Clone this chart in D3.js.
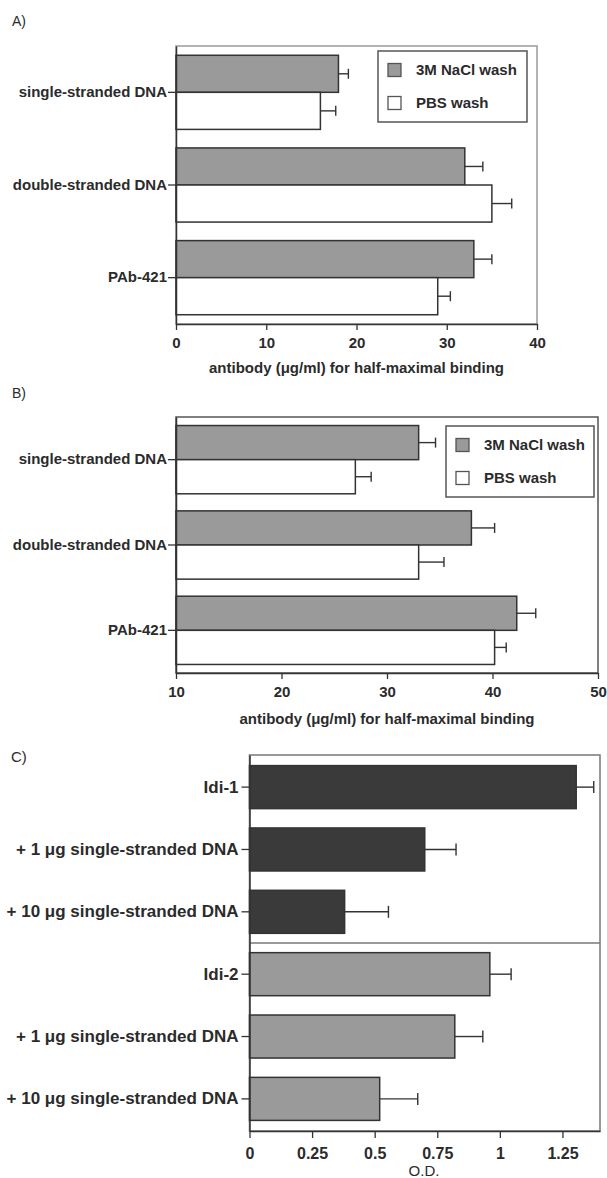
<!DOCTYPE html>
<html>
<head>
<meta charset="utf-8">
<script src="https://cdn.jsdelivr.net/npm/d3@7/dist/d3.min.js"></script>
<style>
    body{margin:0;background:#fff;}
    svg text{font-family:"Liberation Sans", Arial, Helvetica, sans-serif;fill:#2b2b2b;}
</style>
</head>
<body>
<script>
// panels A and B: two washes per antigen
const abCategories = ["single-stranded DNA", "double-stranded DNA", "PAb-421"];
const abSeries = ["3M NaCl wash", "PBS wash"];

const aNaCl = [18, 32, 33];
const aNaClErr = [1.1, 2.0, 2.0];
const aPBS = [16, 35, 29];
const aPBSErr = [1.7, 2.2, 1.4];
const aTicks = [0, 10, 20, 30, 40];

const bNaCl = [33, 38, 42.3];
const bNaClErr = [1.6, 2.2, 1.8];
const bPBS = [27, 33, 40.2];
const bPBSErr = [1.5, 2.4, 1.1];
const bTicks = [10, 20, 30, 40, 50];

// panel C: competition with single-stranded DNA
const cCategories = ["Idi-1", "+ 1 \u03bcg single-stranded DNA", "+ 10 \u03bcg single-stranded DNA",
                     "Idi-2", "+ 1 \u03bcg single-stranded DNA", "+ 10 \u03bcg single-stranded DNA"];
const cGroup = [0, 0, 0, 1, 1, 1];
const cOD = [1.305, 0.70, 0.38, 0.96, 0.82, 0.52];
const cErr = [0.07, 0.125, 0.175, 0.085, 0.112, 0.152];
const cTicks = [0, 0.25, 0.5, 0.75, 1, 1.25];

const W = 607, H = 1178;
const gray = "#9a9a9a", dark = "#3a3a3a", ink = "#333";

var svg = d3.select("body").append("svg")
            .attr("width", W)
            .attr("height", H);

svg.append("rect").attr("width", W).attr("height", H).attr("fill", "#fff");

function styleAxis(g, size, weight){
    g.select(".domain").attr("stroke", ink).attr("stroke-width", 1.5);
    g.selectAll(".tick line").attr("stroke", ink).attr("stroke-width", 1.3);
    g.selectAll(".tick text")
     .attr("fill", "#2b2b2b")
     .style("font-family", '"Liberation Sans", Arial, sans-serif')
     .style("font-size", size + "px")
     .style("font-weight", weight);
}

function errorBar(g, x0, x1, y, cap){
    g.append("line").attr("x1", x0).attr("x2", x1).attr("y1", y).attr("y2", y)
     .attr("stroke", ink).attr("stroke-width", 1.4);
    g.append("line").attr("x1", x1).attr("x2", x1).attr("y1", y - cap).attr("y2", y + cap)
     .attr("stroke", ink).attr("stroke-width", 1.4);
}

function drawGrouped(p){
    let x = d3.scaleLinear().domain(p.domain).range([p.left, p.right]);
    let y0 = d3.scaleBand().domain(abCategories).range([p.top, p.bottom])
               .paddingInner(0.2).paddingOuter(0.1);
    let y1 = d3.scaleBand().domain(abSeries).range([0, y0.bandwidth()]);
    let fills = [gray, "#fff"];

    let g = svg.append("g");

    g.append("text").attr("x", 12).attr("y", p.labelY)
     .style("font-size", "14px").text(p.name);

    // frame
    g.append("rect").attr("x", p.left).attr("y", p.top)
     .attr("width", p.right - p.left).attr("height", p.bottom - p.top)
     .attr("fill", "none").attr("stroke", p.frame).attr("stroke-width", 1.5);

    let rows = [];
    abCategories.forEach(function(c, i){
        rows.push({cat:c, s:0, v:p.values[0][i], e:p.errors[0][i]});
        rows.push({cat:c, s:1, v:p.values[1][i], e:p.errors[1][i]});
    });

    let base = x(p.domain[0]);
    rows.forEach(function(r){
        let yy = y0(r.cat) + y1(abSeries[r.s]);
        g.append("rect").attr("x", base).attr("y", yy)
         .attr("width", x(r.v) - base).attr("height", y1.bandwidth())
         .attr("fill", fills[r.s]).attr("stroke", ink).attr("stroke-width", 1.5);
        errorBar(g, x(r.v), x(r.v + r.e), yy + y1.bandwidth() / 2, 5);
    });

    let ax = g.append("g").attr("transform", "translate(0," + p.bottom + ")")
              .call(d3.axisBottom(x).tickValues(p.ticks).tickSize(6).tickPadding(7)
                      .tickFormat(d => String(d)).tickSizeOuter(0));
    styleAxis(ax, 15, "bold");

    let ay = g.append("g").attr("transform", "translate(" + p.left + ",0)")
              .call(d3.axisLeft(y0).tickSize(8).tickPadding(1).tickSizeOuter(0));
    styleAxis(ay, 15, "bold");

    g.append("text").attr("x", (p.left + p.right) / 2).attr("y", p.titleY)
     .attr("text-anchor", "middle")
     .style("font-size", "15px").style("font-weight", "bold")
     .text("antibody (\u03bcg/ml) for half-maximal binding");

    // legend
    let lg = g.append("g").attr("transform", "translate(" + p.legend[0] + "," + p.legend[1] + ")");
    lg.append("rect").attr("width", p.legend[2]).attr("height", 71)
      .attr("fill", "#fff").attr("stroke", "#555").attr("stroke-width", 1.5);
    abSeries.forEach(function(s, i){
        lg.append("rect").attr("x", 10).attr("y", 12.5 + i * 33).attr("width", 13).attr("height", 13)
          .attr("fill", fills[i]).attr("stroke", "#555").attr("stroke-width", 1.3);
        lg.append("text").attr("x", 38).attr("y", 24 + i * 33)
          .style("font-size", "15px").style("font-weight", "bold").text(s);
    });
}

drawGrouped({
    name:"A)", labelY:26, domain:[0, 40], ticks:aTicks,
    left:176, right:537, top:46, bottom:324, titleY:373, frame:"#9a9a9a",
    values:[aNaCl, aPBS], errors:[aNaClErr, aPBSErr],
    legend:[378, 51, 149]
});

drawGrouped({
    name:"B)", labelY:398, domain:[10, 50], ticks:bTicks,
    left:176, right:598, top:417, bottom:673, titleY:724, frame:"#555",
    values:[bNaCl, bPBS], errors:[bNaClErr, bPBSErr],
    legend:[446, 426, 148]
});

// panel C
(function(){
    let left = 249.5, right = 600, top = 755, bottom = 1131;
    let x = d3.scaleLinear().domain([0, 1.4]).range([left, right]);
    let y = d3.scaleBand().domain(d3.range(cCategories.length)).range([top, bottom])
              .paddingInner(0.31).paddingOuter(0.17);
    let g = svg.append("g");

    g.append("text").attr("x", 11).attr("y", 762)
     .style("font-size", "15px").text("C)");

    g.append("rect").attr("x", left).attr("y", top)
     .attr("width", right - left).attr("height", bottom - top)
     .attr("fill", "none").attr("stroke", "#777").attr("stroke-width", 1.5);

    let mid = (y(2) + y.bandwidth() + y(3)) / 2;
    g.append("line").attr("x1", left).attr("x2", right).attr("y1", mid).attr("y2", mid)
     .attr("stroke", "#777").attr("stroke-width", 1.5);

    cOD.forEach(function(v, i){
        g.append("rect").attr("x", x(0)).attr("y", y(i))
         .attr("width", x(v) - x(0)).attr("height", y.bandwidth())
         .attr("fill", cGroup[i] === 0 ? dark : gray)
         .attr("stroke", ink).attr("stroke-width", 1.5);
        errorBar(g, x(v), x(v + cErr[i]), y(i) + y.bandwidth() / 2, 6);
    });

    let ax = g.append("g").attr("transform", "translate(0," + bottom + ")")
              .call(d3.axisBottom(x).tickValues(cTicks).tickSize(7).tickPadding(10)
                      .tickFormat(d => String(d)).tickSizeOuter(0));
    styleAxis(ax, 16, "bold");

    let ay = g.append("g").attr("transform", "translate(" + left + ",0)")
              .call(d3.axisLeft(y).tickSize(8).tickPadding(3).tickSizeOuter(0)
                      .tickFormat(i => cCategories[i]));
    styleAxis(ay, 17, "bold");

    g.append("text").attr("x", 424).attr("y", 1176)
     .attr("text-anchor", "middle")
     .style("font-size", "15px").text("O.D.");
})();
</script>
</body>
</html>
